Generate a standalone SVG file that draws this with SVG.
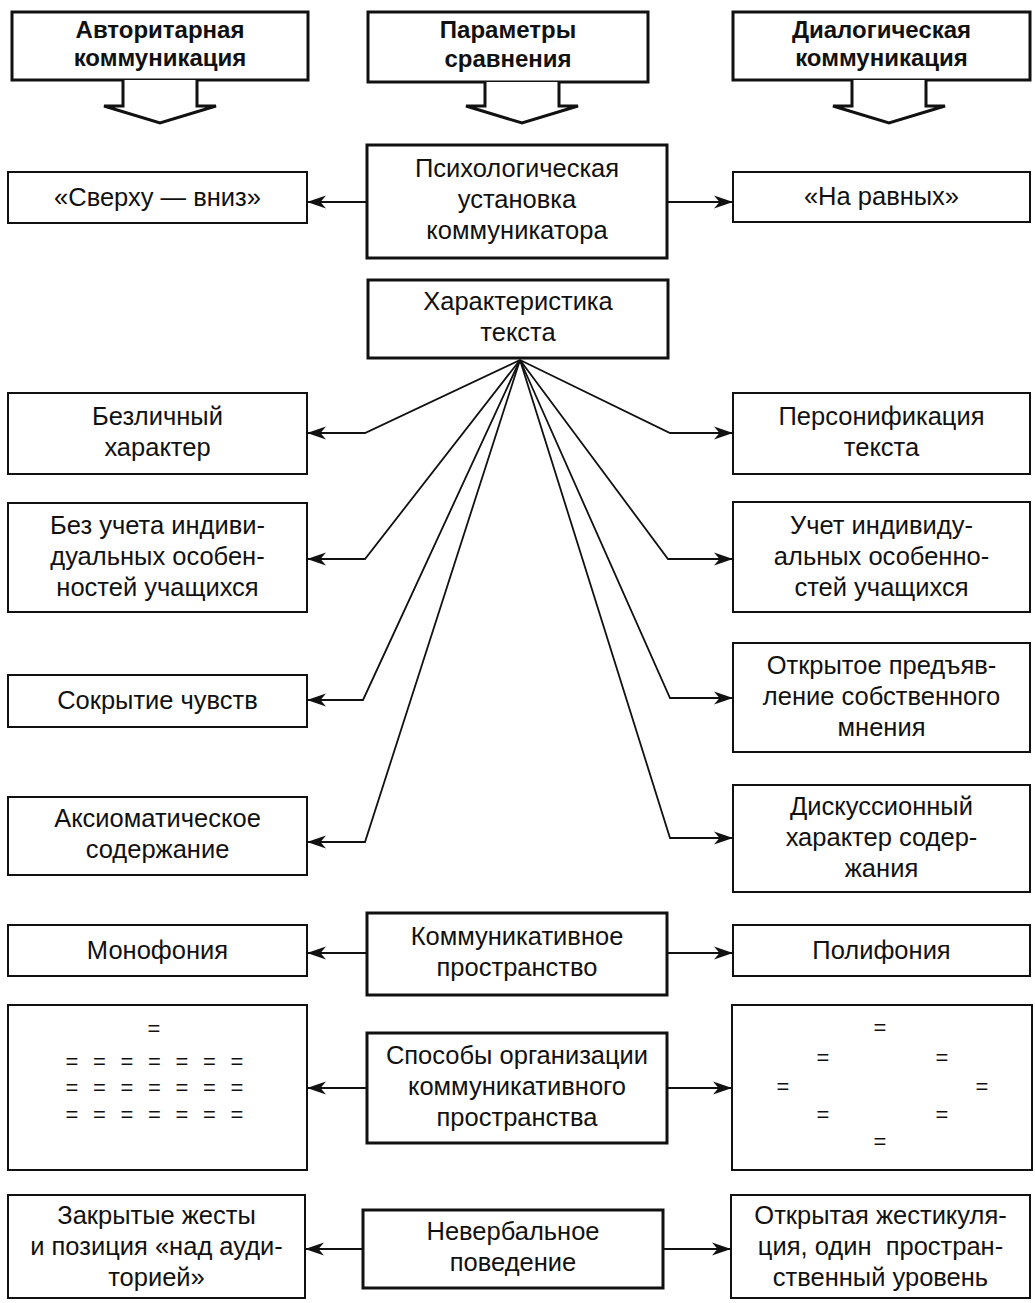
<svg xmlns="http://www.w3.org/2000/svg" width="1035" height="1303" viewBox="0 0 1035 1303">
  <style>
    .bg { fill: #ffffff; }
    .box { fill: #ffffff; stroke: #111; stroke-width: 2; }
    .pbox { fill: #ffffff; stroke: #111; stroke-width: 3; }
    .head { fill: #ffffff; stroke: #111; stroke-width: 3; stroke-linejoin: miter; }
    .t { font-family: "Liberation Sans", Arial, sans-serif; font-size: 25.5px; fill: #111; text-anchor: middle; }
    .h { font-family: "Liberation Sans", Arial, sans-serif; font-size: 24px; font-weight: bold; fill: #111; text-anchor: middle; }
    .eq { font-family: "Liberation Sans", Arial, sans-serif; font-size: 22px; fill: #111; text-anchor: middle; }
    .c { fill: none; stroke: #111; stroke-width: 1.8; marker-end: url(#ah); }
  </style>
  <defs>
    <marker id="ah" markerWidth="20" markerHeight="16" refX="19" refY="8" orient="auto" markerUnits="userSpaceOnUse">
      <path d="M0,1.5 L19,8 L0,14.5 L5.5,8 Z" fill="#111"/>
    </marker>
  </defs>
  <rect class="bg" x="0" y="0" width="1035" height="1303"/>

  <!-- column headers with block arrows -->
  <g id="head-auth">
    <rect class="head" x="12" y="12" width="296" height="68"/>
    <path class="head" d="M123,80 V106 H104 L160,123 L216,106 H197 V80"/>
    <text class="h" x="160" y="38">Авторитарная</text>
    <text class="h" x="160" y="66">коммуникация</text>
  </g>
  <g id="head-params">
    <rect class="head" x="368" y="12" width="280" height="70"/>
    <path class="head" d="M485,82 V106 H466 L522,123 L578,106 H559 V82"/>
    <text class="h" x="508" y="38">Параметры</text>
    <text class="h" x="508" y="67">сравнения</text>
  </g>
  <g id="head-dial">
    <rect class="head" x="733" y="12" width="297" height="68"/>
    <path class="head" d="M852,80 V106 H833 L889,123 L945,106 H926 V80"/>
    <text class="h" x="881.5" y="38">Диалогическая</text>
    <text class="h" x="881.5" y="66">коммуникация</text>
  </g>

  <!-- parameter boxes (centre column) -->
  <g id="p-psych">
    <rect class="pbox" x="367" y="145" width="300" height="113"/>
    <text class="t" x="517" y="177">Психологическая</text>
    <text class="t" x="517" y="208">установка</text>
    <text class="t" x="517" y="239">коммуникатора</text>
  </g>
  <g id="p-text">
    <rect class="pbox" x="368" y="280" width="300" height="78"/>
    <text class="t" x="518" y="310">Характеристика</text>
    <text class="t" x="518" y="341">текста</text>
  </g>
  <g id="p-space">
    <rect class="pbox" x="367" y="913" width="300" height="82"/>
    <text class="t" x="517" y="945">Коммуникативное</text>
    <text class="t" x="517" y="976">пространство</text>
  </g>
  <g id="p-org">
    <rect class="pbox" x="367" y="1033" width="300" height="110"/>
    <text class="t" x="517" y="1064">Способы организации</text>
    <text class="t" x="517" y="1095">коммуникативного</text>
    <text class="t" x="517" y="1126">пространства</text>
  </g>
  <g id="p-nonverbal">
    <rect class="pbox" x="363" y="1210" width="300" height="78"/>
    <text class="t" x="513" y="1240">Невербальное</text>
    <text class="t" x="513" y="1271">поведение</text>
  </g>

  <!-- authoritarian column -->
  <g id="a-attitude">
    <rect class="box" x="8" y="172" width="299" height="51"/>
    <text class="t" x="157.5" y="206">«Сверху — вниз»</text>
  </g>
  <g id="a-impersonal">
    <rect class="box" x="8" y="393" width="299" height="81"/>
    <text class="t" x="157.5" y="425">Безличный</text>
    <text class="t" x="157.5" y="456">характер</text>
  </g>
  <g id="a-noindividual">
    <rect class="box" x="8" y="503" width="299" height="109"/>
    <text class="t" x="157.5" y="534">Без учета индиви-</text>
    <text class="t" x="157.5" y="565">дуальных особен-</text>
    <text class="t" x="157.5" y="596">ностей учащихся</text>
  </g>
  <g id="a-hidden">
    <rect class="box" x="8" y="675" width="299" height="52"/>
    <text class="t" x="157.5" y="709">Сокрытие чувств</text>
  </g>
  <g id="a-axiom">
    <rect class="box" x="8" y="797" width="299" height="78"/>
    <text class="t" x="157.5" y="827">Аксиоматическое</text>
    <text class="t" x="157.5" y="858">содержание</text>
  </g>
  <g id="a-mono">
    <rect class="box" x="8" y="925" width="299" height="51"/>
    <text class="t" x="157.5" y="959">Монофония</text>
  </g>
  <g id="a-rows">
    <rect class="box" x="8" y="1005" width="299" height="165"/>
    <text class="eq" x="154" y="1036">=</text>
    <g>
      <text class="eq" x="72" y="1069">=</text><text class="eq" x="99.5" y="1069">=</text><text class="eq" x="127" y="1069">=</text><text class="eq" x="154.5" y="1069">=</text><text class="eq" x="182" y="1069">=</text><text class="eq" x="209.5" y="1069">=</text><text class="eq" x="237" y="1069">=</text>
      <text class="eq" x="72" y="1095">=</text><text class="eq" x="99.5" y="1095">=</text><text class="eq" x="127" y="1095">=</text><text class="eq" x="154.5" y="1095">=</text><text class="eq" x="182" y="1095">=</text><text class="eq" x="209.5" y="1095">=</text><text class="eq" x="237" y="1095">=</text>
      <text class="eq" x="72" y="1122">=</text><text class="eq" x="99.5" y="1122">=</text><text class="eq" x="127" y="1122">=</text><text class="eq" x="154.5" y="1122">=</text><text class="eq" x="182" y="1122">=</text><text class="eq" x="209.5" y="1122">=</text><text class="eq" x="237" y="1122">=</text>
    </g>
  </g>
  <g id="a-gestures">
    <rect class="box" x="8" y="1195" width="297" height="103"/>
    <text class="t" x="156.5" y="1224">Закрытые жесты</text>
    <text class="t" x="156.5" y="1255">и позиция «над ауди-</text>
    <text class="t" x="156.5" y="1286">торией»</text>
  </g>

  <!-- dialogic column -->
  <g id="d-attitude">
    <rect class="box" x="733" y="172" width="297" height="50"/>
    <text class="t" x="881.5" y="205">«На равных»</text>
  </g>
  <g id="d-personal">
    <rect class="box" x="733" y="393" width="297" height="81"/>
    <text class="t" x="881.5" y="425">Персонификация</text>
    <text class="t" x="881.5" y="456">текста</text>
  </g>
  <g id="d-individual">
    <rect class="box" x="733" y="502" width="297" height="110"/>
    <text class="t" x="881.5" y="534">Учет индивиду-</text>
    <text class="t" x="881.5" y="565">альных особенно-</text>
    <text class="t" x="881.5" y="596">стей учащихся</text>
  </g>
  <g id="d-opinion">
    <rect class="box" x="733" y="643" width="297" height="109"/>
    <text class="t" x="881.5" y="674">Открытое предъяв-</text>
    <text class="t" x="881.5" y="705">ление собственного</text>
    <text class="t" x="881.5" y="736">мнения</text>
  </g>
  <g id="d-discussion">
    <rect class="box" x="733" y="785" width="297" height="107"/>
    <text class="t" x="881.5" y="815">Дискуссионный</text>
    <text class="t" x="881.5" y="846">характер содер-</text>
    <text class="t" x="881.5" y="877">жания</text>
  </g>
  <g id="d-poly">
    <rect class="box" x="733" y="925" width="297" height="51"/>
    <text class="t" x="881.5" y="959">Полифония</text>
  </g>
  <g id="d-circle">
    <rect class="box" x="732" y="1005" width="300" height="165"/>
    <text class="eq" x="880" y="1035">=</text>
    <text class="eq" x="823" y="1065">=</text><text class="eq" x="942" y="1065">=</text>
    <text class="eq" x="783" y="1094">=</text><text class="eq" x="982" y="1094">=</text>
    <text class="eq" x="823" y="1122">=</text><text class="eq" x="942" y="1122">=</text>
    <text class="eq" x="880" y="1149">=</text>
  </g>
  <g id="d-gestures">
    <rect class="box" x="731" y="1195" width="299" height="103"/>
    <text class="t" x="880.5" y="1224">Открытая жестикуля-</text>
    <text class="t" x="880.5" y="1255" xml:space="preserve" style="white-space: pre">ция, один  простран-</text>
    <text class="t" x="880.5" y="1286">ственный уровень</text>
  </g>

  <!-- connectors -->
  <g id="connectors">
    <line class="c" x1="367" y1="202" x2="307" y2="202"/>
    <line class="c" x1="667" y1="202" x2="733" y2="202"/>

    <polyline class="c" points="520,360 365,433 307,433"/>
    <polyline class="c" points="520,360 365,559 307,559"/>
    <polyline class="c" points="520,360 363,700 307,700"/>
    <polyline class="c" points="520,360 365,842 307,842"/>
    <polyline class="c" points="520,360 670,433 733,433"/>
    <polyline class="c" points="520,360 668,559 733,559"/>
    <polyline class="c" points="520,360 670,698 733,698"/>
    <polyline class="c" points="520,360 670,838 733,838"/>

    <line class="c" x1="367" y1="953" x2="307" y2="953"/>
    <line class="c" x1="667" y1="953" x2="733" y2="953"/>
    <line class="c" x1="367" y1="1088" x2="307" y2="1088"/>
    <line class="c" x1="667" y1="1088" x2="732" y2="1088"/>
    <line class="c" x1="363" y1="1249" x2="305" y2="1249"/>
    <line class="c" x1="663" y1="1249" x2="731" y2="1249"/>
  </g>
</svg>
